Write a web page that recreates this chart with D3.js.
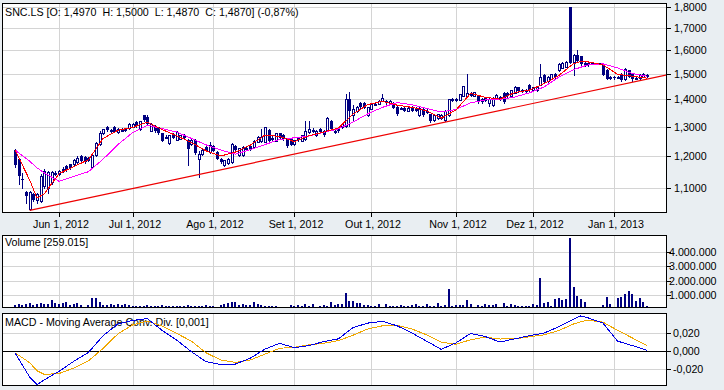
<!DOCTYPE html>
<html>
<head>
<meta charset="utf-8">
<script src="https://cdnjs.cloudflare.com/ajax/libs/d3/7.8.5/d3.min.js"></script>
<style>
  body { margin: 0; background: #e9eef2; }
  svg { display: block; }
  text { font-family: "Liberation Sans", Arial, sans-serif; font-size: 10.7px; fill: #000; }
</style>
</head>
<body>
<script>
// daily bars, oldest first
const open = [
  1.219,1.191,1.126,1.088,1.039,1.081,1.066,1.061,1.105,1.100,
  1.118,1.143,1.142,1.157,1.169,1.173,1.175,1.181,1.199,1.197,
  1.195,1.164,1.202,1.241,1.278,1.299,1.286,1.299,1.281,1.287,
  1.291,1.295,1.300,1.317,1.291,1.341,1.336,1.286,1.303,1.297,
  1.276,1.264,1.243,1.274,1.255,1.258,1.270,1.253,1.240,1.253,
  1.190,1.208,1.229,1.213,1.232,1.213,1.191,1.170,1.178,1.181,
  1.232,1.202,1.202,1.226,1.234,1.229,1.247,1.250,1.247,1.289,
  1.260,1.251,1.276,1.272,1.259,1.256,1.240,1.262,1.251,1.256,
  1.281,1.288,1.270,1.291,1.285,1.286,1.320,1.284,1.290,1.297,
  1.302,1.400,1.341,1.356,1.387,1.387,1.341,1.365,1.382,1.383,
  1.395,1.394,1.383,1.387,1.371,1.366,1.369,1.358,1.371,1.369,
  1.341,1.365,1.356,1.344,1.322,1.330,1.330,1.322,1.341,1.398,
  1.399,1.399,1.413,1.413,1.425,1.413,1.415,1.401,1.405,1.388,
  1.378,1.405,1.400,1.425,1.425,1.413,1.425,1.446,1.435,1.434,
  1.457,1.435,1.436,1.457,1.495,1.470,1.480,1.500,1.516,1.525,
  1.530,1.800,1.550,1.578,1.574,1.545,1.545,1.546,1.544,1.544,
  1.543,1.516,1.484,1.487,1.485,1.500,1.478,1.515,1.500,1.484,
  1.482,1.489,1.497
]
const high = [
  1.223,1.195,1.147,1.090,1.090,1.085,1.086,1.142,1.158,1.152,
  1.153,1.152,1.156,1.165,1.172,1.175,1.190,1.199,1.202,1.200,
  1.198,1.205,1.248,1.286,1.293,1.302,1.293,1.302,1.294,1.295,
  1.294,1.312,1.312,1.320,1.321,1.343,1.340,1.312,1.306,1.299,
  1.278,1.270,1.272,1.278,1.283,1.272,1.273,1.256,1.258,1.256,
  1.218,1.222,1.232,1.245,1.235,1.216,1.194,1.188,1.192,1.243,
  1.236,1.228,1.232,1.232,1.237,1.255,1.268,1.290,1.300,1.292,
  1.270,1.278,1.279,1.275,1.262,1.259,1.254,1.265,1.272,1.320,
  1.320,1.295,1.288,1.294,1.288,1.333,1.323,1.295,1.293,1.310,
  1.420,1.430,1.380,1.374,1.390,1.390,1.373,1.385,1.390,1.396,
  1.420,1.397,1.396,1.390,1.374,1.372,1.372,1.372,1.374,1.372,
  1.371,1.368,1.362,1.347,1.342,1.346,1.345,1.360,1.403,1.405,
  1.405,1.421,1.452,1.500,1.428,1.430,1.418,1.404,1.408,1.405,
  1.410,1.420,1.412,1.428,1.428,1.437,1.450,1.449,1.440,1.440,
  1.460,1.448,1.448,1.540,1.502,1.490,1.502,1.503,1.545,1.549,
  1.552,1.800,1.582,1.600,1.577,1.552,1.550,1.548,1.546,1.546,
  1.546,1.519,1.490,1.490,1.490,1.503,1.524,1.518,1.503,1.490,
  1.500,1.503,1.500
]
const low = [
  1.166,1.111,1.100,1.056,1.035,1.062,1.056,1.058,1.100,1.085,
  1.112,1.140,1.140,1.150,1.152,1.157,1.172,1.178,1.182,1.178,
  1.183,1.160,1.200,1.238,1.275,1.284,1.282,1.280,1.279,1.283,
  1.283,1.293,1.298,1.300,1.289,1.320,1.308,1.284,1.282,1.274,
  1.249,1.260,1.240,1.260,1.253,1.256,1.260,1.170,1.238,1.208,
  1.133,1.205,1.216,1.210,1.215,1.189,1.179,1.168,1.175,1.179,
  1.218,1.200,1.200,1.222,1.220,1.227,1.245,1.248,1.245,1.249,
  1.250,1.249,1.257,1.254,1.230,1.235,1.238,1.250,1.249,1.254,
  1.279,1.280,1.268,1.279,1.268,1.284,1.289,1.278,1.281,1.295,
  1.300,1.302,1.320,1.354,1.369,1.367,1.339,1.363,1.378,1.381,
  1.393,1.383,1.381,1.367,1.342,1.362,1.356,1.356,1.356,1.356,
  1.339,1.339,1.350,1.318,1.320,1.328,1.326,1.320,1.339,1.395,
  1.395,1.397,1.411,1.411,1.411,1.411,1.388,1.388,1.392,1.375,
  1.375,1.403,1.398,1.388,1.410,1.411,1.423,1.430,1.430,1.430,
  1.433,1.432,1.434,1.455,1.466,1.468,1.478,1.485,1.514,1.523,
  1.528,1.545,1.497,1.550,1.538,1.532,1.535,1.544,1.544,1.544,
  1.496,1.478,1.480,1.480,1.482,1.473,1.476,1.486,1.473,1.480,
  1.480,1.487,1.487
]
const close = [
  1.170,1.138,1.124,1.076,1.088,1.066,1.083,1.138,1.153,1.150,
  1.150,1.146,1.153,1.159,1.155,1.160,1.186,1.195,1.184,1.181,
  1.185,1.202,1.243,1.276,1.290,1.287,1.288,1.282,1.291,1.289,
  1.285,1.310,1.310,1.303,1.319,1.322,1.310,1.310,1.284,1.276,
  1.251,1.265,1.270,1.262,1.281,1.270,1.262,1.222,1.255,1.210,
  1.207,1.220,1.218,1.238,1.217,1.191,1.181,1.186,1.190,1.241,
  1.220,1.226,1.230,1.228,1.222,1.250,1.265,1.265,1.297,1.251,
  1.262,1.276,1.259,1.256,1.232,1.237,1.252,1.252,1.270,1.285,
  1.291,1.289,1.286,1.281,1.270,1.331,1.291,1.286,1.283,1.308,
  1.400,1.358,1.365,1.371,1.371,1.369,1.371,1.383,1.384,1.394,
  1.406,1.385,1.394,1.369,1.344,1.368,1.358,1.369,1.358,1.358,
  1.369,1.341,1.357,1.320,1.340,1.344,1.341,1.357,1.400,1.401,
  1.401,1.419,1.450,1.425,1.413,1.427,1.390,1.390,1.394,1.403,
  1.405,1.418,1.410,1.390,1.413,1.435,1.448,1.432,1.436,1.436,
  1.435,1.446,1.446,1.487,1.468,1.487,1.500,1.487,1.543,1.547,
  1.550,1.547,1.578,1.555,1.540,1.535,1.537,1.546,1.544,1.544,
  1.498,1.480,1.486,1.482,1.486,1.475,1.522,1.488,1.480,1.485,
  1.497,1.500,1.487
]
const volume = [
  300000,370000,300000,350000,440000,280000,350000,440000,400000,400000,
  630000,440000,400000,470000,510000,300000,370000,470000,300000,150000,
  300000,770000,820000,540000,300000,280000,350000,300000,350000,300000,
  350000,280000,220000,250000,200000,260000,300000,220000,200000,240000,
  280000,220000,200000,250000,230000,210000,260000,300000,240000,220000,
  260000,210000,280000,240000,200000,0,280000,350000,470000,510000,
  480000,300000,380000,300000,290000,490000,340000,300000,250000,240000,
  220000,260000,0,0,180000,280000,220000,300000,260000,340000,
  230000,380000,190000,240000,280000,240000,510000,280000,350000,350000,
  1120000,580000,600000,470000,420000,280000,280000,240000,260000,370000,
  190000,350000,250000,220000,220000,300000,200000,240000,280000,350000,
  230000,220000,370000,260000,220000,420000,240000,300000,1420000,240000,
  300000,300000,300000,630000,400000,190000,300000,250000,350000,300000,
  320000,400000,190000,440000,230000,400000,320000,260000,240000,240000,
  240000,370000,280000,2200000,440000,510000,260000,720000,790000,630000,
  700000,4970000,1580000,950000,720000,490000,190000,0,0,0,
  300000,880000,370000,0,820000,880000,1100000,1280000,1070000,580000,
  820000,540000,259015
]

// indicator lines, read at these bar indices
const lineIdx = [0,4,6,8,12,16,20,24,28,32,36,40,44,48,52,56,60,64,68,72,76,80,84,88,92,96,100,104,108,112,116,120,124,128,132,136,140,144,148,152,154,156,160,164,168,172]
const maFast = [1.22,1.124,1.07,1.083,1.144,1.166,1.188,1.259,1.287,1.297,1.316,1.29,1.268,1.245,1.217,1.2,1.213,1.236,1.27,1.266,1.248,1.268,1.281,1.295,1.345,1.38,1.393,1.378,1.37,1.357,1.33,1.36,1.423,1.408,1.401,1.426,1.436,1.461,1.494,1.543,1.552,1.55,1.538,1.499,1.491,1.483]
const maSlow = [1.22,1.183,1.162,1.146,1.12,1.135,1.15,1.19,1.238,1.279,1.305,1.293,1.281,1.259,1.237,1.22,1.206,1.221,1.238,1.255,1.261,1.267,1.28,1.292,1.316,1.346,1.37,1.388,1.38,1.366,1.353,1.362,1.387,1.398,1.40,1.409,1.425,1.448,1.487,1.518,1.528,1.538,1.542,1.525,1.502,1.491]
const macd = [-0.002,-0.029,-0.0375,-0.032,-0.0225,-0.0115,-0.0015,0.017,0.030,0.034,0.036,0.023,0.0122,-0.0008,-0.0119,-0.015,-0.0145,-0.008,0.002,0.0085,0.0037,0.006,0.0104,0.0135,0.026,0.031,0.033,0.028,0.020,0.011,0.0018,0.009,0.0195,0.016,0.010,0.0135,0.017,0.020,0.027,0.0355,0.039,0.0368,0.031,0.011,0.006,0.0008]
const signal = [-0.002,-0.013,-0.022,-0.026,-0.025,-0.019,-0.011,0.003,0.019,0.029,0.033,0.028,0.0195,0.011,-0.002,-0.010,-0.0126,-0.010,-0.0035,0.003,0.0042,0.0068,0.0086,0.0115,0.0175,0.0245,0.028,0.0285,0.0245,0.018,0.0098,0.0075,0.0125,0.0155,0.0133,0.0135,0.0158,0.018,0.0228,0.030,0.0325,0.0342,0.032,0.023,0.0145,0.006]

// support line through two lows (bar index, price)
const trendIdx = [4, 172]
const trendVal = [1.035, 1.479]

// axis ticks
const monthIdx = [12, 32, 54, 76, 97, 120, 141, 163]
const monthLabels = ['Jun 1, 2012', 'Jul 1, 2012', 'Ago 1, 2012', 'Set 1, 2012', 'Out 1, 2012', 'Nov 1, 2012', 'Dez 1, 2012', 'Jan 1, 2013']
const priceTicks = [1.1, 1.2, 1.3, 1.4, 1.5, 1.6, 1.7, 1.8]
const volumeTicks = [1000000, 2000000, 3000000, 4000000]
const macdTicks = [-0.02, 0, 0.02]

const titleText = 'SNC.LS [O: 1,4970  H: 1,5000  L: 1,4870  C: 1,4870] (-0,87%)'
const volumeText = 'Volume [259.015]'
const macdText = 'MACD - Moving Average Conv. Div. [0,001]'

const config = {
  width: 724,
  height: 390,
  left: 2,
  right: 667,
  price: { top: 3, bottom: 213 },
  vol: { top: 235, bottom: 308 },
  osc: { top: 313, bottom: 386 },
  candle: '#000080',
  grid: '#d4d4d4',
  fast: '#ff0000',
  slow: '#ff00ff',
  trend: '#ee0000',
  macdColor: '#0000e6',
  signalColor: '#f0a800'
}

const loc = d3.formatLocale({ decimal: ',', thousands: '.', grouping: [3], currency: ['', ''], minus: '-' })
const fmtPrice = loc.format('.4f'),
      fmtVol = loc.format(',.0f'),
      fmtMacd = loc.format('.3f')

const root = d3.select('body')
  .append('svg')
  .attr('width', config.width)
  .attr('height', config.height)

const x = d3.scaleLinear().domain([0, close.length - 1]).range([15, 647])
const px = i => Math.round(x(i))

const yPrice = d3.scaleLog().domain([1.0277, 1.8197]).range([config.price.bottom, config.price.top])
const yVol = d3.scaleLinear().domain([0, 5185000]).range([309.3, config.vol.top])
const yMacd = d3.scaleLinear().domain([-0.03889, 0.04222]).range([config.osc.bottom, config.osc.top])

// panel frame + grid, returns a clipped group for the marks
const makePanel = (name, box, yScale, ticks, fmt, labelX) => {
  const w = config.right - config.left, h = box.bottom - box.top
  root.append('clipPath').attr('id', 'clip-' + name)
    .append('rect').attr('x', config.left).attr('y', box.top).attr('width', w).attr('height', h)
  root.append('rect')
    .attr('x', config.left).attr('y', box.top).attr('width', w).attr('height', h)
    .attr('fill', '#fff')
  const g = root.append('g').attr('clip-path', `url(#clip-${name})`)
  g.selectAll('.hgrid').data(ticks).enter().append('line')
    .attr('x1', config.left).attr('x2', config.right)
    .attr('y1', d => Math.round(yScale(d)) + 0.5).attr('y2', d => Math.round(yScale(d)) + 0.5)
    .attr('stroke', config.grid)
  g.selectAll('.vgrid').data(monthIdx).enter().append('line')
    .attr('x1', d => px(d) + 0.5).attr('x2', d => px(d) + 0.5)
    .attr('y1', box.top).attr('y2', box.bottom)
    .attr('stroke', config.grid)
  // right-hand axis
  root.selectAll('.tick-' + name).data(ticks).enter().append('line')
    .attr('x1', config.right).attr('x2', config.right + 4)
    .attr('y1', d => Math.round(yScale(d)) + 0.5).attr('y2', d => Math.round(yScale(d)) + 0.5)
    .attr('stroke', '#000')
  root.selectAll('.lab-' + name).data(ticks).enter().append('text')
    .attr('x', labelX)
    .attr('y', d => Math.round(yScale(d)) + 4)
    .text(fmt)
  return g
}

const drawBorder = box => {
  root.append('rect')
    .attr('x', config.left + 0.5).attr('y', box.top + 0.5)
    .attr('width', config.right - config.left - 1).attr('height', box.bottom - box.top - 1)
    .attr('fill', 'none').attr('stroke', '#000')
}

// ---- price panel
const gp = makePanel('price', config.price, yPrice, priceTicks, fmtPrice, 674)

gp.append('text').attr('x', 5).attr('y', 16).style('white-space', 'pre').text(titleText)

const bars = close.map((c, i) => ({ i: i, o: open[i], h: high[i], l: low[i], c: c }))

gp.selectAll('.wick').data(bars).enter().append('line')
  .attr('x1', d => px(d.i) + 0.5).attr('x2', d => px(d.i) + 0.5)
  .attr('y1', d => Math.round(yPrice(d.h))).attr('y2', d => Math.round(yPrice(d.l)) + 1)
  .attr('stroke', config.candle)

gp.selectAll('.body').data(bars).enter().append('rect')
  .attr('x', d => d.c >= d.o ? px(d.i) - 0.5 : px(d.i) - 1)
  .attr('y', d => Math.round(yPrice(Math.max(d.o, d.c))) + (d.c >= d.o ? 0.5 : 0))
  .attr('width', d => d.c >= d.o ? 2 : 3)
  .attr('height', d => Math.max(1, Math.round(yPrice(Math.min(d.o, d.c))) - Math.round(yPrice(Math.max(d.o, d.c)))))
  .attr('fill', d => d.c >= d.o ? '#fff' : config.candle)
  .attr('stroke', d => d.c >= d.o ? config.candle : 'none')

const lineData = vals => lineIdx.map((idx, k) => [idx, vals[k]])
const priceLine = d3.line().x(d => x(d[0])).y(d => yPrice(d[1]))

gp.append('path').attr('d', priceLine(lineData(maSlow)))
  .attr('fill', 'none').attr('stroke', config.slow).attr('stroke-width', 1)
  .style('shape-rendering', 'crispEdges')
gp.append('path').attr('d', priceLine(lineData(maFast)))
  .attr('fill', 'none').attr('stroke', config.fast).attr('stroke-width', 1)
  .style('shape-rendering', 'crispEdges')

// trend line extended to the right edge
const tx1 = x(trendIdx[0]), ty1 = yPrice(trendVal[0]),
      tx2 = x(trendIdx[1]), ty2 = yPrice(trendVal[1]),
      tEnd = ty1 + (config.right - tx1) * (ty2 - ty1) / (tx2 - tx1)
gp.append('line')
  .attr('x1', tx1).attr('y1', ty1).attr('x2', config.right).attr('y2', tEnd)
  .attr('stroke', config.trend).attr('stroke-width', 1.2)

drawBorder(config.price)

// month labels under the price panel
root.selectAll('.mtick').data(monthIdx).enter().append('line')
  .attr('x1', d => px(d) + 0.5).attr('x2', d => px(d) + 0.5)
  .attr('y1', config.price.bottom).attr('y2', config.price.bottom + 4)
  .attr('stroke', '#000')
root.selectAll('.mlab').data(monthIdx).enter().append('text')
  .attr('x', d => px(d) + 2)
  .attr('y', 228)
  .attr('text-anchor', 'middle')
  .text((d, k) => monthLabels[k])

// ---- volume panel
const gv = makePanel('vol', config.vol, yVol, volumeTicks, fmtVol, 669)
gv.append('text').attr('x', 5).attr('y', 246).text(volumeText)
gv.selectAll('.vbar').data(volume).enter().append('rect')
  .attr('x', (d, i) => px(i) - 1)
  .attr('y', d => Math.round(yVol(d)))
  .attr('width', 2)
  .attr('height', d => d > 0 ? config.vol.bottom - Math.round(yVol(d)) : 0)
  .attr('fill', config.candle)
drawBorder(config.vol)

// ---- MACD panel
const go = makePanel('osc', config.osc, yMacd, macdTicks, fmtMacd, 673)
go.append('text').attr('x', 5).attr('y', 326).text(macdText)
go.append('line')
  .attr('x1', config.left).attr('x2', config.right)
  .attr('y1', Math.round(yMacd(0)) + 0.5).attr('y2', Math.round(yMacd(0)) + 0.5)
  .attr('stroke', '#000')
const oscLine = d3.line().x(d => x(d[0])).y(d => yMacd(d[1]))
go.append('path').attr('d', oscLine(lineData(signal)))
  .attr('fill', 'none').attr('stroke', config.signalColor)
  .style('shape-rendering', 'crispEdges')
go.append('path').attr('d', oscLine(lineData(macd)))
  .attr('fill', 'none').attr('stroke', config.macdColor)
  .style('shape-rendering', 'crispEdges')
drawBorder(config.osc)
</script>
</body>
</html>
